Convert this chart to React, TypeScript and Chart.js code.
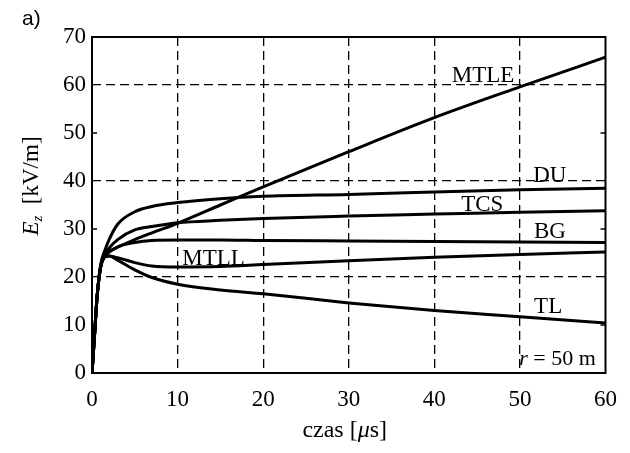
import React, { useEffect, useRef } from "react";
import { Chart, registerables } from "chart.js";

Chart.register(...registerables);

// time axis [µs]
const times = [0, 0.3, 0.6, 1, 1.5, 2, 3, 5, 7, 10, 15, 20, 30, 40, 50, 60];
// Ez [kV/m]
const mtle = [0, 8, 16, 22, 24.5, 25.3, 26.2, 27.8, 29.2, 31.2, 35.0, 38.8, 46.1, 53.2, 59.6, 65.8];
const du = [0, 8, 16, 22.5, 25.5, 27.8, 31.0, 33.6, 34.7, 35.5, 36.3, 36.8, 37.2, 37.7, 38.2, 38.5];
const tcs = [0, 8, 16, 22, 24.5, 26.0, 27.8, 29.8, 30.5, 31.3, 31.8, 32.2, 32.7, 33.1, 33.5, 33.8];
const bg = [0, 8, 16, 22, 24.3, 25.2, 26.3, 27.2, 27.6, 27.7, 27.7, 27.6, 27.5, 27.4, 27.3, 27.2];
const mtll = [0, 8, 16, 22, 24.2, 24.4, 24.0, 23.0, 22.3, 22.1, 22.2, 22.6, 23.4, 24.1, 24.7, 25.2];
const tl = [0, 8, 16, 22, 24.2, 24.4, 23.5, 21.5, 19.9, 18.5, 17.3, 16.5, 14.6, 13.0, 11.7, 10.4];

const seriesNames = ["MTLE", "DU", "TCS", "BG", "MTLL", "TL"];
const seriesValues = [mtle, du, tcs, bg, mtll, tl];

// label anchors in data coordinates (time, Ez)
const labelTimes = [45.7, 53.5, 45.6, 53.5, 14.2, 53.3];
const labelValues = [61.9, 41.0, 35.0, 29.4, 23.75, 13.75];

const xTicksMax = 60;
const yTicksMax = 70;
const yGridValues = [20, 40, 60];
const ySmallTicks = [10, 30, 50];

const SERIF = "'Liberation Serif', 'Times New Roman', serif";

const overlayPlugin = {
  id: "overlay",
  afterDraw(chart: any) {
    const { ctx, chartArea } = chart;
    const xs = chart.scales.x;
    const ys = chart.scales.y;
    ctx.save();
    ctx.fillStyle = "#000";
    ctx.strokeStyle = "#000";

    // frame
    ctx.lineWidth = 2;
    ctx.setLineDash([]);
    ctx.strokeRect(chartArea.left, chartArea.top, chartArea.right - chartArea.left, chartArea.bottom - chartArea.top);

    // small inward ticks
    ctx.lineWidth = 1.5;
    ySmallTicks.forEach((v) => {
      const py = ys.getPixelForValue(v);
      ctx.beginPath();
      ctx.moveTo(chartArea.left, py);
      ctx.lineTo(chartArea.left + 5, py);
      ctx.moveTo(chartArea.right - 5, py);
      ctx.lineTo(chartArea.right, py);
      ctx.stroke();
    });

    // series labels
    ctx.font = `23px ${SERIF}`;
    ctx.textAlign = "center";
    ctx.textBaseline = "middle";
    seriesNames.forEach((name, i) => {
      ctx.fillText(name, xs.getPixelForValue(labelTimes[i]), ys.getPixelForValue(labelValues[i]));
    });

    // r = 50 m
    {
      const cx = xs.getPixelForValue(54.4);
      const cy = ys.getPixelForValue(2.9);
      ctx.font = `italic 22px ${SERIF}`;
      const w1 = ctx.measureText("r").width;
      ctx.font = `22px ${SERIF}`;
      const w2 = ctx.measureText(" = 50 m").width;
      const x0 = cx - (w1 + w2) / 2;
      ctx.textAlign = "left";
      ctx.font = `italic 22px ${SERIF}`;
      ctx.fillText("r", x0, cy);
      ctx.font = `22px ${SERIF}`;
      ctx.fillText(" = 50 m", x0 + w1, cy);
    }

    // x title: czas [µs]
    {
      const cx = (chartArea.left + chartArea.right) / 2 - 4;
      const cy = 431;
      ctx.font = `24px ${SERIF}`;
      const a = "czas [";
      const b = "\u03bc";
      const c = "s]";
      const wa = ctx.measureText(a).width;
      const wc = ctx.measureText(c).width;
      ctx.font = `italic 24px ${SERIF}`;
      const wb = ctx.measureText(b).width;
      let x = cx - (wa + wb + wc) / 2;
      ctx.textAlign = "left";
      ctx.font = `24px ${SERIF}`;
      ctx.fillText(a, x, cy);
      x += wa;
      ctx.font = `italic 24px ${SERIF}`;
      ctx.fillText(b, x, cy);
      x += wb;
      ctx.font = `24px ${SERIF}`;
      ctx.fillText(c, x, cy);
    }

    // y title: Ez [kV/m]
    {
      ctx.save();
      ctx.translate(30, 186);
      ctx.rotate(-Math.PI / 2);
      ctx.textAlign = "left";
      ctx.textBaseline = "alphabetic";
      ctx.font = `italic 23px ${SERIF}`;
      const wE = ctx.measureText("E").width;
      ctx.font = `italic 15px ${SERIF}`;
      const wz = ctx.measureText("z").width;
      ctx.font = `23px ${SERIF}`;
      const wr = ctx.measureText("  [kV/m]").width;
      let x = -(wE + wz + wr) / 2;
      const base = 8;
      ctx.font = `italic 23px ${SERIF}`;
      ctx.fillText("E", x, base);
      x += wE;
      ctx.font = `italic 15px ${SERIF}`;
      ctx.fillText("z", x, base + 4);
      x += wz;
      ctx.font = `23px ${SERIF}`;
      ctx.fillText("  [kV/m]", x, base);
      ctx.restore();
    }

    // panel label
    ctx.font = "21px 'Liberation Sans', Arial, sans-serif";
    ctx.textAlign = "left";
    ctx.textBaseline = "middle";
    ctx.fillText("a)", 22, 19);

    ctx.restore();
  },
};

export default function App() {
  const canvasRef = useRef<HTMLCanvasElement | null>(null);

  useEffect(() => {
    const canvas = canvasRef.current;
    if (!canvas) return;
    const datasets = seriesNames.map((name, i) => ({
      label: name,
      data: times.map((t, j) => ({ x: t, y: seriesValues[i][j] })),
      borderColor: "#000",
      backgroundColor: "#000",
      borderWidth: 3,
      pointRadius: 0,
      fill: false,
      cubicInterpolationMode: "monotone" as const,
    }));

    const chart = new Chart(canvas, {
      type: "line",
      data: { datasets },
      plugins: [overlayPlugin],
      options: {
        animation: false,
        responsive: false,
        devicePixelRatio: 1,
        layout: { padding: { left: 0, top: 37, right: 22, bottom: 0 } },
        plugins: { legend: { display: false }, tooltip: { enabled: false } },
        scales: {
          x: {
            type: "linear",
            min: 0,
            max: xTicksMax,
            ticks: {
              stepSize: 10,
              color: "#000",
              padding: 13,
              maxRotation: 0,
              font: { family: SERIF, size: 23 },
            },
            grid: {
              drawTicks: false,
              lineWidth: 1.3,
              color: (c: any) =>
                c.tick && c.tick.value > 0 && c.tick.value < xTicksMax ? "#000" : "rgba(0,0,0,0)",
            },
            border: { display: false, dash: [9, 5] },
            afterFit: (s: any) => {
              s.height = 80;
            },
          },
          y: {
            type: "linear",
            min: 0,
            max: yTicksMax,
            ticks: {
              stepSize: 10,
              color: "#000",
              padding: 6,
              font: { family: SERIF, size: 23 },
            },
            grid: {
              drawTicks: false,
              lineWidth: 1.3,
              color: (c: any) =>
                c.tick && yGridValues.includes(c.tick.value) ? "#000" : "rgba(0,0,0,0)",
            },
            border: { display: false, dash: [9, 5] },
            afterFit: (s: any) => {
              s.width = 92;
            },
          },
        },
      },
    });
    return () => chart.destroy();
  }, []);

  return (
    <div style={{ position: "fixed", left: 0, top: 0, width: 630, height: 453, background: "#fff" }}>
      <canvas ref={canvasRef} width={630} height={453} style={{ display: "block" }} />
    </div>
  );
}
